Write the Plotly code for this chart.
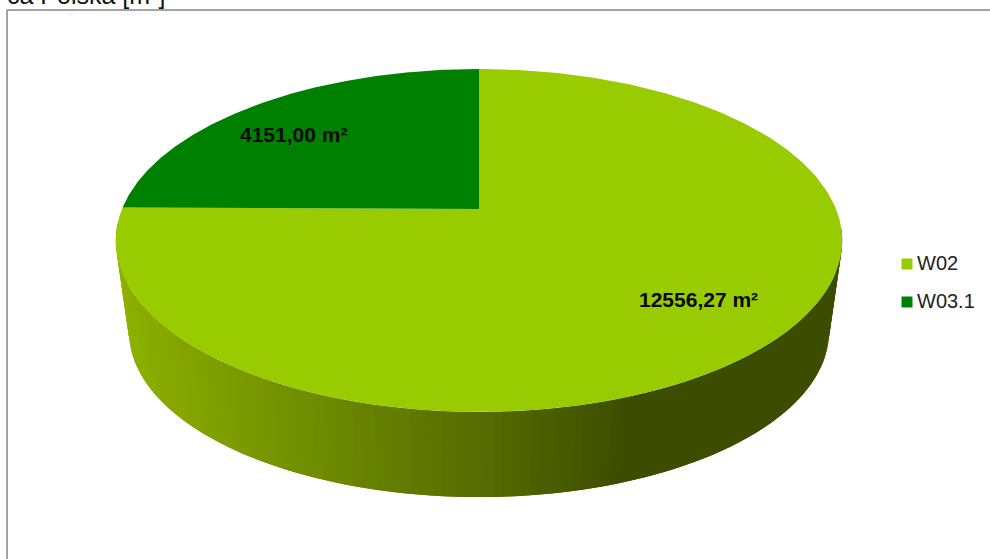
import numpy as np
import plotly.graph_objects as go

categories = ['W02', 'W03.1']
powierzchnia = [12556.27, 4151.00]
etykiety = ['12556,27 m²', '4151,00 m²']
kolory = ['#99CC00', '#008000']
tytul = 'ca Polska [m²]'

# rzut perspektywiczny kola: gorna i dolna podstawa "tortu"
k = 0.1837


def rzut(t, poziom):
    # t w stopniach, zgodnie z zegarem od gory
    a, b, cy = {'gora': (357, 165.7, 209), 'dol': (344, 159.7, 301.4)}[poziom]
    X = np.sin(np.radians(t))
    Y = np.cos(np.radians(t))
    return 479 + a * X / (1 + k * Y), cy - b * Y / (1 + k * Y)


def kolor_sciany(x):
    r = np.interp(x, [116, 480, 620], [142, 86, 61])
    g = np.interp(x, [116, 480, 620], [178, 107, 77])
    return f'rgb({r:.0f},{g:.0f},0)'


fig = go.Figure()

# sciana boczna - paski z gradientem, kazdy zachodzi na nastepny
katy = np.arange(96, 265, 1.0)
for t0 in katy:
    t1 = t0 + 2.0
    xg, yg = rzut(np.array([t0, t1]), 'gora')
    xd, yd = rzut(np.array([t1, t0]), 'dol')
    kol = kolor_sciany((xg.mean() + xd.mean()) / 2)
    fig.add_trace(go.Scatter(x=list(xg) + list(xd) + [xg[0]], y=list(yg) + list(yd) + [yg[0]],
                             mode='lines', fill='toself', fillcolor=kol,
                             line=dict(width=0), showlegend=False, hoverinfo='skip'))

# wycinki gornej podstawy
start = 0
suma = sum(powierzchnia)
for wart, kol in zip(powierzchnia, kolory):
    koniec = start + 360 * wart / suma
    t = np.linspace(start, koniec, 300)
    x, y = rzut(t, 'gora')
    fig.add_trace(go.Scatter(x=[479] + list(x) + [479], y=[209] + list(y) + [209],
                             mode='lines', fill='toself', fillcolor=kol, line=dict(width=0),
                             showlegend=False, hoverinfo='skip'))
    start = koniec

# legenda
legenda_y = [264, 302]
fig.add_trace(go.Scatter(x=[907, 907], y=legenda_y, mode='markers', showlegend=False, hoverinfo='skip',
                         marker=dict(symbol='square', size=11, color=kolory)))
for nazwa, ly in zip(categories, legenda_y):
    fig.add_annotation(x=917, y=ly - 1, text=nazwa, showarrow=False, xanchor='left', xshift=-2,
                       font=dict(family='Liberation Sans', size=20, color='#222222'))

fig.add_annotation(x=698.5, y=299.5, text=f'<b>{etykiety[0]}</b>', showarrow=False,
                   font=dict(family='Liberation Sans', size=21, color='#0A0A0A'))
fig.add_annotation(x=293.5, y=134.5, text=f'<b>{etykiety[1]}</b>', showarrow=False,
                   font=dict(family='Liberation Sans', size=21, color='#0A0A0A'))
fig.add_annotation(x=167, y=11, text=tytul, showarrow=False, xanchor='right', yanchor='bottom',
                   font=dict(family='Liberation Sans', size=25, color='#111111'))

# ramka wykresu, ucieta przez okno
fig.add_shape(type='line', x0=7, x1=7, y0=10, y1=559, line=dict(color='#868686', width=1.5))
fig.add_shape(type='line', x0=7, x1=990, y0=10, y1=10, line=dict(color='#868686', width=1.5))

fig.update_layout(width=990, height=559, margin=dict(l=0, r=0, t=0, b=0),
                  paper_bgcolor='white', plot_bgcolor='white', showlegend=False)
fig.update_xaxes(range=[0, 990], visible=False)
fig.update_yaxes(range=[559, 0], visible=False)

fig.write_html("out.html", config=dict(displayModeBar=False),
               post_script="document.body.style.margin='0';document.body.style.overflow='hidden';")
